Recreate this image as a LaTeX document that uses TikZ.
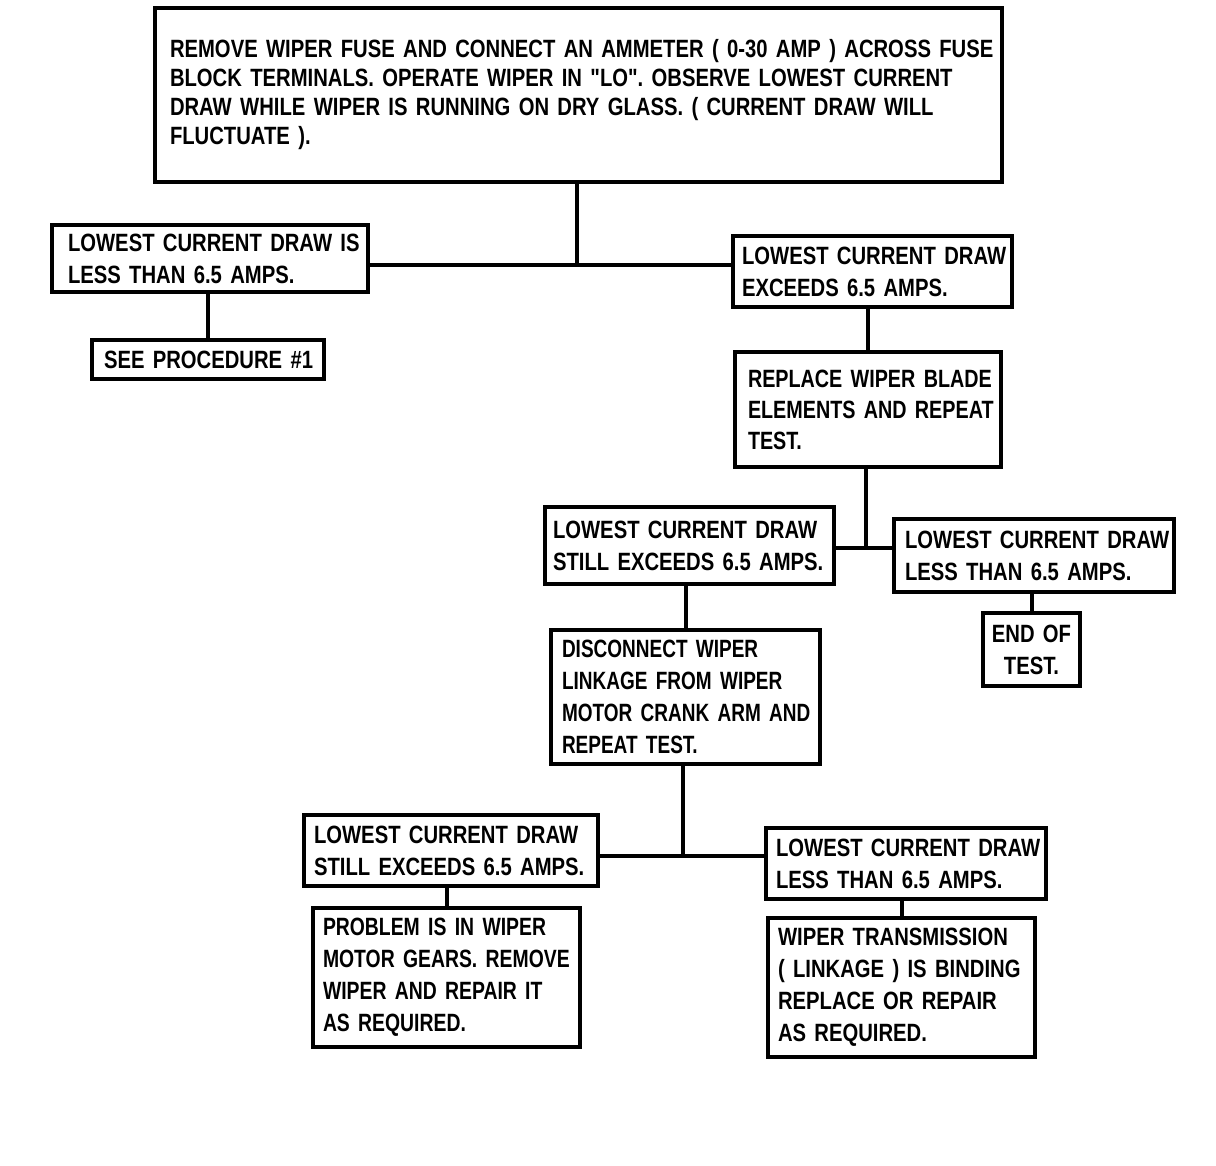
\documentclass[tikz,border=0pt]{standalone}
\usepackage{fontspec}
\setmainfont{Liberation Sans}[FakeStretch=0.81]
\newfontfamily\plainq{Liberation Sans}[FakeStretch=0.81]
\newfontfamily\narrowA{Liberation Sans}[FakeStretch=0.76]
\newfontfamily\narrowB{Liberation Sans}[FakeStretch=0.775]
\newfontfamily\narrowC{Liberation Sans}[FakeStretch=0.79]
\frenchspacing
\tikzset{
  box/.style={draw, line width=4pt, rectangle, inner ysep=3pt, align=left,
    font=\bfseries\fontsize{25}{32}\selectfont},
  link/.style={line width=4pt}
}
% [opts], x1, y1, x2, y2, xsep, name, text
\newcommand\bx[8][]{%
  \pgfmathsetmacro\bxw{#4-#2}\pgfmathsetmacro\bxh{#5-#3}\pgfmathsetmacro\bxt{#4-#2-2*#6}%
  \node[box, inner xsep=#6pt, minimum width=\bxw pt, minimum height=\bxh pt,
        text width=\bxt pt, #1] (#7) at ({(#2+#4)/2},{(#3+#5)/2}) {#8};}
\newcommand\dq{{\plainq\bfseries\char"22}}
\begin{document}
\begin{tikzpicture}[x=1pt,y=-1pt]
\useasboundingbox (0,0) rectangle (1216,1166);
\bx[font=\bfseries\fontsize{25}{29}\selectfont]{155}{8}{1002}{182}{15}{top}{%
\mbox{REMOVE WIPER FUSE AND CONNECT AN AMMETER ( 0-30 AMP ) ACROSS FUSE}\\
\mbox{BLOCK TERMINALS. OPERATE WIPER IN \dq LO\dq. OBSERVE LOWEST CURRENT}\\
\mbox{DRAW WHILE WIPER IS RUNNING ON DRY GLASS. ( CURRENT DRAW WILL}\\
\mbox{FLUCTUATE ).}}
\bx{52}{225}{368}{292}{16}{A}{%
\mbox{LOWEST CURRENT DRAW IS}\\\mbox{LESS THAN 6.5 AMPS.}}
\bx{92}{340}{324}{379}{12}{SP}{\mbox{SEE PROCEDURE \#1}}
\bx{733}{236}{1012}{307}{9}{B}{%
\mbox{LOWEST CURRENT DRAW}\\\mbox{EXCEEDS 6.5 AMPS.}}
\bx[font=\narrowC\bfseries\fontsize{25}{31}\selectfont]{735}{352}{1001}{467}{13}{C}{%
\mbox{REPLACE WIPER BLADE}\\\mbox{ELEMENTS AND REPEAT}\\\mbox{TEST.}}
\bx{545}{507}{834}{584}{8}{D}{%
\mbox{LOWEST CURRENT DRAW}\\\mbox{STILL EXCEEDS 6.5 AMPS.}}
\bx{894}{519}{1174}{592}{11}{E}{%
\mbox{LOWEST CURRENT DRAW}\\\mbox{LESS THAN 6.5 AMPS.}}
\bx[align=center]{983}{613}{1080}{686}{8}{F}{%
\mbox{END OF}\\\mbox{TEST.}}
\bx[font=\narrowA\bfseries\fontsize{25}{32}\selectfont]{551}{630}{820}{764}{11}{G}{%
\mbox{DISCONNECT WIPER}\\\mbox{LINKAGE FROM WIPER}\\\mbox{MOTOR CRANK ARM AND}\\\mbox{REPEAT TEST.}}
\bx{304}{815}{598}{886}{10}{H}{%
\mbox{LOWEST CURRENT DRAW}\\\mbox{STILL EXCEEDS 6.5 AMPS.}}
\bx{766}{828}{1046}{899}{10}{I}{%
\mbox{LOWEST CURRENT DRAW}\\\mbox{LESS THAN 6.5 AMPS.}}
\bx[font=\narrowB\bfseries\fontsize{25}{32}\selectfont]{313}{908}{580}{1047}{10}{J}{%
\mbox{PROBLEM IS IN WIPER}\\\mbox{MOTOR GEARS. REMOVE}\\\mbox{WIPER AND REPAIR IT}\\\mbox{AS REQUIRED.}}
\bx{768}{918}{1035}{1057}{10}{K}{%
\mbox{WIPER TRANSMISSION}\\\mbox{( LINKAGE ) IS BINDING}\\\mbox{REPLACE OR REPAIR}\\\mbox{AS REQUIRED.}}
% junctions
\coordinate (j1) at (577,265);
\coordinate (j2) at (866,548);
\coordinate (j3) at (683,856);
% connectors
\draw[link] (top.south -| j1) -- (j1);
\draw[link] (A.east |- j1) -- (B.west |- j1);
\draw[link] (SP.north) -- (SP.north |- A.south);
\draw[link] (C.north) -- (C.north |- B.south);
\draw[link] (C.south -| j2) -- (j2);
\draw[link] (D.east |- j2) -- (E.west |- j2);
\draw[link] (F.north) -- (F.north |- E.south);
\draw[link] (G.north) -- (G.north |- D.south);
\draw[link] (G.south -| j3) -- (j3);
\draw[link] (H.east |- j3) -- (I.west |- j3);
\draw[link] (J.north) -- (J.north |- H.south);
\draw[link] (K.north) -- (K.north |- I.south);
\end{tikzpicture}
\end{document}
